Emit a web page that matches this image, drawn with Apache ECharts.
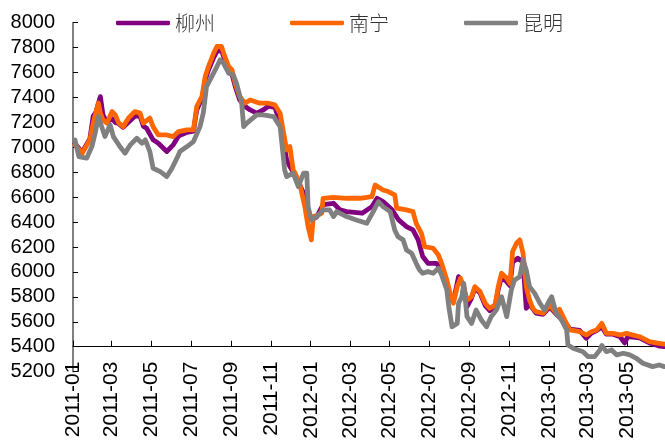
<!DOCTYPE html>
<html>
<head>
<meta charset="utf-8">
<script src="https://cdn.jsdelivr.net/npm/echarts@6/dist/echarts.min.js"></script>
<style>
  html, body { margin: 0; padding: 0; background: #fff; }
  #chart { width: 665px; height: 446px; }
</style>
</head>
<body>
<div id="chart"></div>
<script>
// Price series (yuan/ton) for three markets, as [date, price] turning points
const liuzhou = [
  ['2011-01-04', 7030], ['2011-01-15', 6960], ['2011-01-27', 7070], ['2011-02-01', 7250],
  ['2011-02-05', 7280], ['2011-02-12', 7407], ['2011-02-16', 7260], ['2011-02-22', 7200],
  ['2011-03-02', 7230], ['2011-03-07', 7200], ['2011-03-12', 7190], ['2011-03-19', 7160],
  ['2011-03-27', 7200], ['2011-04-06', 7250], ['2011-04-14', 7250], ['2011-04-19', 7170],
  ['2011-04-24', 7153], ['2011-05-04', 7060], ['2011-05-12', 7033], ['2011-05-25', 6966],
  ['2011-06-04', 7020], ['2011-06-12', 7090], ['2011-06-25', 7120], ['2011-07-05', 7130],
  ['2011-07-10', 7300], ['2011-07-15', 7360], ['2011-07-18', 7380], ['2011-07-23', 7540],
  ['2011-07-28', 7620], ['2011-08-05', 7720], ['2011-08-10', 7769], ['2011-08-17', 7780],
  ['2011-08-22', 7700], ['2011-08-28', 7620], ['2011-09-02', 7590], ['2011-09-07', 7490],
  ['2011-09-14', 7380], ['2011-09-22', 7330], ['2011-09-30', 7300], ['2011-10-10', 7274],
  ['2011-10-20', 7300], ['2011-10-28', 7330], ['2011-11-07', 7320], ['2011-11-15', 7200],
  ['2011-11-25', 6900], ['2011-11-30', 6846], ['2011-12-10', 6760], ['2011-12-21', 6632],
  ['2011-12-28', 6480], ['2012-01-02', 6420], ['2012-01-10', 6440], ['2012-01-20', 6540],
  ['2012-02-05', 6551], ['2012-02-15', 6498], ['2012-02-25', 6484], ['2012-03-20', 6471],
  ['2012-04-04', 6524], ['2012-04-12', 6591], ['2012-04-21', 6564], ['2012-05-05', 6498],
  ['2012-05-15', 6417], ['2012-05-27', 6364], ['2012-06-06', 6337], ['2012-06-14', 6257],
  ['2012-06-21', 6123], ['2012-06-29', 6069], ['2012-07-12', 6069], ['2012-07-20', 6016],
  ['2012-07-28', 5900], ['2012-08-02', 5801], ['2012-08-07', 5760], ['2012-08-15', 5962],
  ['2012-08-23', 5882], ['2012-08-28', 5721], ['2012-09-04', 5790], ['2012-09-09', 5870],
  ['2012-09-17', 5830], ['2012-09-25', 5730], ['2012-10-02', 5690], ['2012-10-10', 5720],
  ['2012-10-15', 5860], ['2012-10-20', 5960], ['2012-10-28', 5920], ['2012-11-02', 5890],
  ['2012-11-06', 6080], ['2012-11-14', 6110], ['2012-11-22', 6080], ['2012-11-27', 5708],
  ['2012-12-02', 5740], ['2012-12-12', 5670], ['2012-12-23', 5660], ['2013-01-02', 5720],
  ['2013-01-12', 5660], ['2013-01-25', 5600], ['2013-02-02', 5540], ['2013-02-17', 5530],
  ['2013-02-27', 5467], ['2013-03-07', 5510], ['2013-03-15', 5530], ['2013-03-23', 5560],
  ['2013-03-30', 5500], ['2013-04-09', 5500], ['2013-04-20', 5480], ['2013-04-27', 5430],
  ['2013-05-02', 5480], ['2013-05-20', 5470], ['2013-06-04', 5430], ['2013-06-19', 5405],
  ['2013-06-27', 5400]
];

const nanning = [
  ['2011-01-04', 7020], ['2011-01-15', 6953], ['2011-01-27', 7060], ['2011-02-01', 7194],
  ['2011-02-09', 7355], ['2011-02-12', 7276], ['2011-02-16', 7220], ['2011-02-22', 7194],
  ['2011-03-02', 7287], ['2011-03-07', 7260], ['2011-03-12', 7196], ['2011-03-19', 7166],
  ['2011-03-27', 7234], ['2011-04-06', 7287], ['2011-04-14', 7274], ['2011-04-19', 7194],
  ['2011-04-29', 7234], ['2011-05-04', 7166], ['2011-05-12', 7099], ['2011-05-25', 7099],
  ['2011-06-04', 7086], ['2011-06-12', 7126], ['2011-06-25', 7140], ['2011-07-05', 7140],
  ['2011-07-10', 7327], ['2011-07-15', 7380], ['2011-07-18', 7407], ['2011-07-23', 7568],
  ['2011-07-28', 7648], ['2011-08-05', 7756], ['2011-08-10', 7809], ['2011-08-17', 7809],
  ['2011-08-22', 7729], ['2011-08-28', 7648], ['2011-09-02', 7622], ['2011-09-07', 7515],
  ['2011-09-14', 7407], ['2011-09-22', 7354], ['2011-09-30', 7380], ['2011-10-15', 7354],
  ['2011-10-28', 7354], ['2011-11-07', 7340], ['2011-11-15', 7274], ['2011-11-25', 6980],
  ['2011-11-30', 7006], ['2011-12-05', 6819], ['2011-12-08', 6792], ['2011-12-15', 6712],
  ['2011-12-23', 6524], ['2011-12-28', 6364], ['2012-01-02', 6257], ['2012-01-05', 6444],
  ['2012-01-13', 6457], ['2012-01-18', 6471], ['2012-01-20', 6591], ['2012-02-05', 6599],
  ['2012-02-25', 6591], ['2012-03-17', 6591], ['2012-04-04', 6605], ['2012-04-09', 6698],
  ['2012-04-21', 6658], ['2012-04-29', 6645], ['2012-05-09', 6618], ['2012-05-12', 6511],
  ['2012-05-27', 6498], ['2012-06-06', 6484], ['2012-06-11', 6390], ['2012-06-19', 6310],
  ['2012-06-24', 6203], ['2012-07-07', 6190], ['2012-07-15', 6136], ['2012-07-20', 6069],
  ['2012-07-28', 5935], ['2012-08-02', 5828], ['2012-08-07', 5748], ['2012-08-13', 5882],
  ['2012-08-18', 5949], ['2012-08-23', 5882], ['2012-08-28', 5775], ['2012-09-04', 5801],
  ['2012-09-09', 5882], ['2012-09-17', 5842], ['2012-09-25', 5748], ['2012-10-02', 5708],
  ['2012-10-10', 5735], ['2012-10-15', 5882], ['2012-10-20', 5989], ['2012-10-28', 5949],
  ['2012-11-02', 5908], ['2012-11-06', 6163], ['2012-11-12', 6230], ['2012-11-17', 6257],
  ['2012-11-22', 6150], ['2012-11-27', 5882], ['2012-12-02', 5775], ['2012-12-07', 5708],
  ['2012-12-12', 5681], ['2012-12-23', 5668], ['2013-01-02', 5735], ['2013-01-12', 5668],
  ['2013-01-17', 5700], ['2013-01-25', 5614], ['2013-02-02', 5534], ['2013-02-17', 5520],
  ['2013-02-27', 5494], ['2013-03-07', 5520], ['2013-03-15', 5534], ['2013-03-23', 5587],
  ['2013-03-25', 5587], ['2013-03-30', 5507], ['2013-04-09', 5507], ['2013-04-20', 5494],
  ['2013-04-30', 5507], ['2013-05-20', 5480], ['2013-06-04', 5440], ['2013-06-19', 5427],
  ['2013-06-27', 5420]
];

const kunming = [
  ['2011-01-04', 7060], ['2011-01-10', 6926], ['2011-01-22', 6913], ['2011-01-30', 7006],
  ['2011-02-04', 7113], ['2011-02-09', 7247], ['2011-02-14', 7166], ['2011-02-19', 7086],
  ['2011-02-27', 7180], ['2011-03-04', 7086], ['2011-03-14', 7006], ['2011-03-22', 6953],
  ['2011-03-30', 7020], ['2011-04-09', 7073], ['2011-04-17', 7033], ['2011-04-22', 7060],
  ['2011-04-29', 6966], ['2011-05-04', 6832], ['2011-05-15', 6805], ['2011-05-25', 6765],
  ['2011-06-02', 6832], ['2011-06-12', 6939], ['2011-06-14', 6966], ['2011-06-25', 7006],
  ['2011-07-05', 7046], ['2011-07-15', 7166], ['2011-07-20', 7274], ['2011-07-25', 7487],
  ['2011-08-02', 7568], ['2011-08-10', 7648], ['2011-08-15', 7702], ['2011-08-20', 7675],
  ['2011-08-28', 7595], ['2011-09-04', 7582], ['2011-09-09', 7515], ['2011-09-17', 7354],
  ['2011-09-20', 7166], ['2011-09-25', 7194], ['2011-10-10', 7260], ['2011-10-20', 7260],
  ['2011-11-05', 7247], ['2011-11-15', 7166], ['2011-11-22', 6819], ['2011-11-25', 6765],
  ['2011-12-05', 6792], ['2011-12-13', 6685], ['2011-12-21', 6792], ['2011-12-26', 6792],
  ['2011-12-28', 6524], ['2012-01-02', 6417], ['2012-01-10', 6444], ['2012-01-20', 6498],
  ['2012-01-30', 6498], ['2012-02-05', 6444], ['2012-02-10', 6484], ['2012-02-25', 6444],
  ['2012-03-11', 6417], ['2012-03-27', 6390], ['2012-04-06', 6484], ['2012-04-14', 6564],
  ['2012-04-21', 6524], ['2012-05-02', 6484], ['2012-05-09', 6337], ['2012-05-14', 6283],
  ['2012-05-22', 6257], ['2012-05-27', 6176], ['2012-06-04', 6150], ['2012-06-11', 6069],
  ['2012-06-16', 6016], ['2012-06-21', 5989], ['2012-06-29', 6002], ['2012-07-07', 5989],
  ['2012-07-15', 6029], ['2012-07-19', 5989], ['2012-07-28', 5855], ['2012-07-31', 5721],
  ['2012-08-05', 5560], ['2012-08-13', 5587], ['2012-08-15', 5748], ['2012-08-20', 5801],
  ['2012-08-23', 5908], ['2012-08-28', 5641], ['2012-09-04', 5587], ['2012-09-11', 5694],
  ['2012-09-19', 5614], ['2012-09-27', 5560], ['2012-10-04', 5641], ['2012-10-12', 5694],
  ['2012-10-20', 5801], ['2012-10-28', 5641], ['2012-11-04', 5855], ['2012-11-09', 5935],
  ['2012-11-17', 5962], ['2012-11-22', 6096], ['2012-11-27', 6016], ['2012-12-02', 5882],
  ['2012-12-10', 5828], ['2012-12-18', 5748], ['2012-12-25', 5694], ['2013-01-02', 5775],
  ['2013-01-05', 5800], ['2013-01-12', 5668], ['2013-01-20', 5614], ['2013-01-28', 5534],
  ['2013-01-30', 5414], ['2013-02-02', 5400], ['2013-02-07', 5387], ['2013-02-22', 5360],
  ['2013-03-02', 5320], ['2013-03-12', 5320], ['2013-03-20', 5374], ['2013-03-23', 5410],
  ['2013-03-30', 5360], ['2013-04-07', 5374], ['2013-04-15', 5334], ['2013-04-25', 5347],
  ['2013-05-05', 5334], ['2013-05-15', 5307], ['2013-05-25', 5267], ['2013-06-09', 5240],
  ['2013-06-19', 5253], ['2013-06-27', 5240]
];

const seriesNames = ['柳州', '南宁', '昆明'];
const seriesColors = ['#800080', '#FF6600', '#808080'];

// Month labels shown on the date axis
const xTickLabels = ['2011-01', '2011-03', '2011-05', '2011-07', '2011-09', '2011-11',
  '2012-01', '2012-03', '2012-05', '2012-07', '2012-09', '2012-11',
  '2013-01', '2013-03', '2013-05'];
const xStart = '2011-01-01';
const xEnd = '2013-06-28';

const yMin = 5200, yMax = 8000, yStep = 200;
const axisCross = 5400;   // value where the date axis crosses

const DAY = 86400000;
// dates are kept as UTC day numbers on a plain value axis
const toDay = (s) => {
  const [y, m, d] = s.split('-').map(Number);
  return Date.UTC(y, m - 1, d || 1) / DAY;
};
const tickDays = xTickLabels.map(toDay);
const pad2 = (n) => (n < 10 ? '0' + n : '' + n);
const dayLabel = (v) => {
  const d = new Date(Math.round(v) * DAY);
  return d.getUTCFullYear() + '-' + pad2(d.getUTCMonth() + 1);
};

const chart = echarts.init(document.getElementById('chart'), null, { renderer: 'canvas' });

const gridTop = 22.7, gridBottomY = 371.6;
const pxPerUnit = (gridBottomY - gridTop) / (yMax - yMin);
const crossOffset = -(axisCross - yMin) * pxPerUnit;

const numFont = 'Liberation Sans, Arial, sans-serif';

chart.setOption({
  animation: false,
  backgroundColor: '#ffffff',
  grid: { left: 73, right: 0, top: gridTop, bottom: 446 - gridBottomY, containLabel: false },
  legend: {
    data: seriesNames,
    left: 111,
    top: 8,
    icon: 'roundRect',
    itemWidth: 54,
    itemHeight: 4.5,
    itemGap: 75,
    textStyle: { fontFamily: 'Noto Sans CJK SC', fontSize: 20, fontWeight: 300, color: '#333' }
  },
  xAxis: {
    type: 'value',
    min: toDay(xStart),
    max: toDay(xEnd),
    position: 'bottom',
    offset: crossOffset,
    axisLine: { show: true, onZero: false, lineStyle: { color: '#000', width: 1.2 } },
    axisTick: { show: true, inside: true, length: 6, customValues: tickDays, lineStyle: { color: '#000', width: 1 } },
    axisLabel: {
      customValues: tickDays,
      rotate: 90,
      margin: 15,
      fontFamily: numFont,
      fontSize: 21,
      color: '#000',
      formatter: dayLabel
    },
    splitLine: { show: false }
  },
  yAxis: {
    type: 'value',
    min: yMin,
    max: yMax,
    interval: yStep,
    axisLine: { show: true, lineStyle: { color: '#808080', width: 2 } },
    axisTick: { show: true, inside: true, length: 5, lineStyle: { color: '#000', width: 1 } },
    axisLabel: {
      margin: 18,
      showMinLabel: true,
      showMaxLabel: true,
      fontFamily: numFont,
      fontSize: 20,
      color: '#000',
      formatter: (v) => String(v)
    },
    splitLine: { show: false }
  },
  series: [liuzhou, nanning, kunming].map((data, i) => ({
    name: seriesNames[i],
    type: 'line',
    data: data.map(([d, v]) => [toDay(d), v]),
    showSymbol: false,
    symbol: 'none',
    clip: false,
    lineStyle: { color: seriesColors[i], width: 4.8, join: 'round', cap: 'round' },
    itemStyle: { color: seriesColors[i] },
    z: 2 + i
  }))
});
</script>
</body>
</html>
